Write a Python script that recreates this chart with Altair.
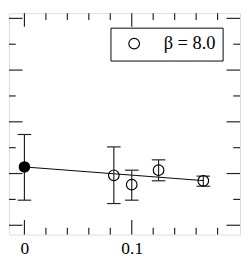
import altair as alt
import pandas as pd

# ---- data ----
x_open = [0.0833, 0.1, 0.125, 0.1667]
y_open = [1.93, 1.57, 2.13, 1.72]
y_open_lo = [0.84, 0.97, 1.72, 1.51]
y_open_hi = [3.03, 2.13, 2.53, 1.90]

x_filled = [0.0]
y_filled = [2.255]
y_filled_lo = [0.97]
y_filled_hi = [3.51]

x_fit = [0.0, 0.1667]
y_fit = [2.255, 1.727]

series_label = ["β = 8.0"]

x_labels = [0, 0.1]
x_major = [0.0, 0.1]
x_minor = [0.02, 0.04, 0.06, 0.08, 0.12, 0.14, 0.16, 0.18]
y_major = [0, 2, 4, 6, 8]
y_minor = [1, 3, 5, 7]

W, H = 239, 229
FONT = "Liberation Serif"
INK = "#222222"

xs = alt.Scale(domain=[-0.0144, 0.2009], nice=False, zero=False)
ys = alt.Scale(domain=[-0.36, 8.2], nice=False, zero=False)

xaxis = alt.Axis(values=x_labels, format="", ticks=False, domain=False, grid=False,
                 labelFont=FONT, labelFontSize=18, labelPadding=6, labelColor="black",
                 title=None)

def X(f="x"):
    return alt.X(f"{f}:Q", scale=xs, axis=xaxis)

def Y(f="y"):
    return alt.Y(f"{f}:Q", scale=ys, axis=None)

open_df = pd.DataFrame({"x": x_open, "y": y_open, "lo": y_open_lo, "hi": y_open_hi,
                        "s": series_label * len(x_open)})
filled_df = pd.DataFrame({"x": x_filled, "y": y_filled, "lo": y_filled_lo, "hi": y_filled_hi})
fit_df = pd.DataFrame({"x": x_fit, "y": y_fit})
err_df = pd.concat([open_df[["x", "lo", "hi"]], filled_df[["x", "lo", "hi"]]], ignore_index=True)

fit = alt.Chart(fit_df).mark_line(color="black", strokeWidth=1).encode(x=X(), y=Y())

err_v = alt.Chart(err_df).mark_rule(color=INK, strokeWidth=1.2).encode(
    x=X(), y=Y("lo"), y2=alt.Y2("hi"))
cap_hi = alt.Chart(err_df).mark_rule(color=INK, strokeWidth=1.2, xOffset=-7, x2Offset=7).encode(
    x=X(), x2=alt.X2("x"), y=Y("hi"))
cap_lo = alt.Chart(err_df).mark_rule(color=INK, strokeWidth=1.2, xOffset=-7, x2Offset=7).encode(
    x=X(), x2=alt.X2("x"), y=Y("lo"))

open_pts = alt.Chart(open_df).mark_point(filled=False, color="black", strokeWidth=1.2, size=121,
                                         opacity=1).encode(
    x=X(), y=Y(),
    shape=alt.Shape("s:N", scale=alt.Scale(range=["circle"]),
                    legend=alt.Legend(orient="none", legendX=105, legendY=15, title=None,
                                      strokeColor="black", padding=7, symbolOffset=8,
                                      symbolSize=121, symbolStrokeColor="black",
                                      symbolFillColor="transparent", symbolStrokeWidth=1.2,
                                      labelFont=FONT, labelFontSize=19, labelColor="black",
                                      labelOffset=21, labelLimit=0)))

filled_pts = alt.Chart(filled_df).mark_point(filled=True, color="black", size=144, opacity=1).encode(
    x=X(), y=Y())

def xticks(vals, length_top, length_bottom):
    df = pd.DataFrame({"x": vals})
    top = alt.Chart(df).mark_rule(color=INK, strokeWidth=1.2).encode(
        x=X(), y=alt.value(0), y2=alt.value(length_top))
    bot = alt.Chart(df).mark_rule(color=INK, strokeWidth=1.2).encode(
        x=X(), y=alt.value(H), y2=alt.value(H - length_bottom))
    return [top, bot]

def yticks(vals, length_left, length_right):
    df = pd.DataFrame({"y": vals})
    left = alt.Chart(df).mark_rule(color=INK, strokeWidth=1.2).encode(
        y=Y(), x=alt.value(0), x2=alt.value(length_left))
    right = alt.Chart(df).mark_rule(color=INK, strokeWidth=1.2).encode(
        y=Y(), x=alt.value(W), x2=alt.value(W - length_right))
    return [left, right]

layers = (xticks(x_major, 14, 15) + xticks(x_minor, 7, 7)
          + yticks(y_major, 14, 14) + yticks(y_minor, 7, 7)
          + [fit, err_v, cap_hi, cap_lo, open_pts, filled_pts])

chart = alt.layer(*layers).properties(width=W, height=H, padding=0).configure_view(
    stroke=INK, strokeWidth=1.2).configure(background="white")

chart.save("out.html", embed_options={"renderer": "svg", "actions": False})
